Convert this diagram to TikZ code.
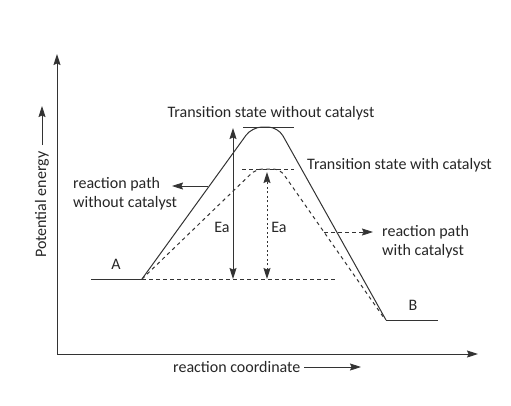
\documentclass[tikz,border=0pt]{standalone}
\usepackage{fontspec}
\setmainfont{Carlito}
\usetikzlibrary{arrows.meta}
\definecolor{ink}{HTML}{333333}
\begin{document}
\begin{tikzpicture}[x=1pt,y=-1pt,
  line/.style={draw=ink,line width=1pt},
  dashline/.style={draw=ink,line width=1pt,dash pattern=on 3.5pt off 3.5pt},
  dotline/.style={draw=ink,line width=1pt,dash pattern=on 2pt off 2.5pt},
  tip/.style={-{Stealth[length=11pt,width=7pt,inset=1.5pt]}},
  dtip/.style={{Stealth[length=11pt,width=7pt,inset=1.5pt]}-{Stealth[length=11pt,width=7pt,inset=1.5pt]}},
  lbl/.style={font=\fontsize{16}{19}\selectfont,text=black!85,inner sep=0pt},
  lbll/.style={lbl,anchor=west,align=left}]
\useasboundingbox (0,0) rectangle (511,405);
% axes
\coordinate (O) at (57,354);
\coordinate (Ytop) at (57,54);
\coordinate (Xend) at (478,354);
\draw[line,tip] (O) -- (Ytop);
\draw[line,tip] (O) -- (Xend);
% axis labels
\node[lbl,rotate=90,anchor=west] (pe) at (42,258) {Potential energy};
\coordinate (peA) at (42,145);
\coordinate (peB) at (42,106);
\draw[line,tip,line width=0.8pt] (peA) -- (peB);
\node[lbl,anchor=west] (rc) at (173,367) {reaction coordinate};
\coordinate (rcA) at (304,367);
\coordinate (rcB) at (361,367);
\draw[line,tip,line width=0.8pt] (rcA) -- (rcB);
% key points
\coordinate (A0) at (91,279);
\coordinate (A1) at (142,279);
\coordinate (B0) at (386,320);
\coordinate (B1) at (438,320);
% reactant / product levels
\draw[line] (A0) -- (A1);
\draw[line] (B0) -- (B1);
\node[lbl] (la) at (116,264) {A};
\node[lbl] (lb) at (413,305) {B};
% uncatalysed path
\draw[line,rounded corners=10pt] (A1) -- (252,127) -- (278,127) -- (B0);
\coordinate (h1) at (243,127);
\coordinate (h2) at (294,127);
\draw[line] (h1) -- (h2);
% catalysed path
\draw[dashline,rounded corners=7pt] (A1) -- (256,169) -- (280,169) -- (384,318);
\coordinate (d1) at (242,169);
\coordinate (d2) at (294,169);
\draw[dashline] (d1) -- (d2);
\coordinate (b2) at (338,279);
\draw[dashline] (A1) -- (b2);
% Ea arrows
\coordinate (e1t) at (233,128);
\coordinate (e1b) at (233,279);
\draw[line,dtip] (e1b) -- (e1t);
\node[lbl] (ea1) at (222,227) {Ea};
\coordinate (e2t) at (267,172);
\coordinate (e2b) at (267,279);
\draw[dotline,dtip] (e2b) -- (e2t);
\node[lbl] (ea2) at (279,227) {Ea};
% titles
\node[lbl] (ts1) at (271,113) {Transition state without catalyst};
\node[lbll] (ts2) at (307,165) {Transition state with catalyst};
% reaction path labels
\node[lbll] (rp1) at (73,194) {reaction path\\without catalyst};
\coordinate (r1a) at (208,186);
\coordinate (r1b) at (172,186);
\draw[line,tip,line width=0.8pt] (r1a) -- (r1b);
\node[lbll] (rp2) at (382,242) {reaction path\\with catalyst};
\coordinate (r2a) at (324,232);
\coordinate (r2b) at (373,232);
\draw[dashline,tip,line width=0.8pt] (r2a) -- (r2b);
\end{tikzpicture}
\end{document}
